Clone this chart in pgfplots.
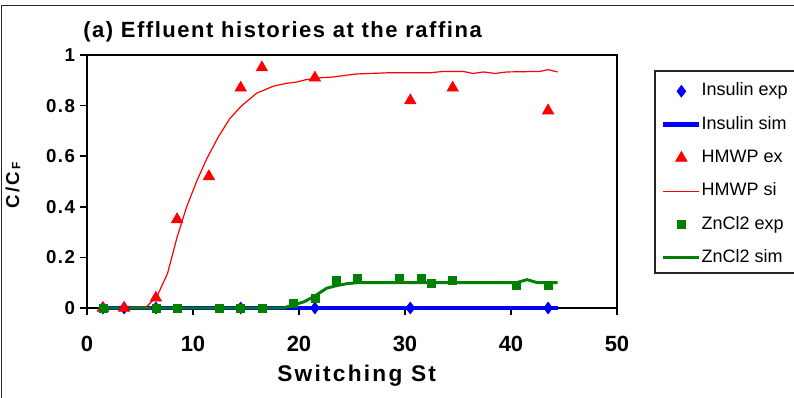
\documentclass[border=0pt]{standalone}
\usepackage{fontspec}
\setmainfont{Liberation Sans}
\newfontfamily\titlefont[LetterSpace=7]{Liberation Sans}
\newfontfamily\legfont[LetterSpace=0]{Liberation Sans}
\newfontfamily\ytfont[LetterSpace=8]{Liberation Sans}
\newfontfamily\xlfont[LetterSpace=10]{Liberation Sans}
\newfontfamily\ylfont[LetterSpace=10]{Liberation Sans}
\usepackage{pgfplots}
\pgfplotsset{compat=1.18}
\definecolor{exblue}{RGB}{0,0,255}
\definecolor{exred}{RGB}{255,0,0}
\definecolor{exgreen}{RGB}{0,128,0}
\begin{document}
\begin{tikzpicture}
\useasboundingbox (0,0) rectangle (595.5pt,-298.5pt);
\clip (0,0) rectangle (595.5pt,-298.5pt);
\begin{scope}[x=0.75pt,y=-0.75pt]
\draw[line width=1.4pt, black!85] (1.5,5.5) rectangle (900,500);
\node[anchor=west, inner sep=0pt, font=\titlefont\bfseries\fontsize{16.5}{19}\selectfont] at (83,32) {(a) Effluent histories at the raffina};
\draw[line width=1pt, black!85] (655,71) rectangle (900,273);
\end{scope}
\begin{axis}[
  at={(65.25pt,-231pt)}, anchor=south west,
  scale only axis, width=397.5pt, height=189.75pt,
  xmin=0, xmax=50, ymin=0, ymax=1,
  xtick={0,10,20,30,40,50}, ytick={0,0.2,0.4,0.6,0.8,1},
  yticklabels={0,0.2,0.4,0.6,0.8,1},
  tick align=outside, xtick pos=bottom, ytick pos=left,
  major tick length=5.5pt,
  every tick/.style={black, line width=1.3pt},
  axis line style={line width=1.8pt, black},
  /pgf/number format/assume math mode=true,
  xticklabel style={font=\bfseries\fontsize{16.5}{16.5}\selectfont, yshift=-12pt},
  yticklabel style={font=\ytfont\bfseries\fontsize{14}{14}\selectfont},
  clip=false,
  xlabel={Switching St},
  xlabel style={at={(axis description cs:0.3585,-0.2688)}, anchor=west, inner sep=0pt, font=\xlfont\bfseries\fontsize{17}{19}\selectfont},
  ylabel={C/C\,\raisebox{-1pt}{\fontsize{9}{9}\selectfont F}},
  every axis y label/.style={at={(axis description cs:-0.1396,0.486)}, rotate=90, anchor=center, inner sep=0pt, font=\ylfont\bfseries\fontsize{14}{16}\selectfont},
  legend style={at={(1.0717,0.9368)}, anchor=north west, draw=none, fill=none,
     font=\legfont\fontsize{13.5}{14}\selectfont, row sep=12pt, inner xsep=4.5pt, inner ysep=8.5pt,
     nodes={text height=10pt, text depth=3pt, inner sep=0pt}},
  legend cell align=left,
  legend image code/.code={\draw[mark repeat=2,mark phase=2,#1] plot coordinates {(0pt,0pt) (13.5pt,0pt) (27pt,0pt)};},
]
\addplot[only marks, mark=diamond*, mark size=4.5pt, color=exblue] coordinates {
 (1.5,0) (3.5,0) (6.5,0) (14.5,0) (21.5,0) (30.5,0) (43.5,0)};
\addlegendentry{Insulin exp}
\addplot[no marks, color=exblue, line width=3.2pt] coordinates {
 (1.5,0) (10,0) (20,0) (30,0) (44.4,0)};
\addlegendentry{Insulin sim}
\addplot[only marks, mark=triangle*, mark size=5pt, color=exred] coordinates {
 (1.5,0) (3.5,0) (6.5,0.04) (8.5,0.35) (11.5,0.52) (14.5,0.87) (16.5,0.95) (21.5,0.91) (30.5,0.82) (34.5,0.87) (43.5,0.78)};
\addlegendentry{HMWP ex}
\addplot[no marks, color=exred, line width=0.9pt] coordinates {
 (1.5,0) (5.6,0.005) (6.6,0.045) (7.6,0.137) (8.5,0.28) (9.4,0.40) (10.4,0.506) (11.3,0.59) (12.4,0.677) (13.5,0.75) (14.6,0.80) (16.0,0.849) (17.6,0.877) (18.8,0.888) (19.8,0.893) (20.7,0.903) (22.0,0.91) (23.2,0.913) (25.4,0.925) (28.6,0.93) (32.4,0.93) (33.6,0.935) (35.5,0.935) (36.4,0.927) (37.4,0.933) (38.5,0.927) (39.6,0.933) (42.7,0.935) (43.5,0.942) (44.4,0.933)};
\addlegendentry{HMWP si}
\addplot[only marks, mark=square*, mark size=3pt, color=exgreen] coordinates {
 (1.5,0) (6.5,0) (8.5,0) (12.5,0) (14.5,0) (16.5,0) (19.5,0.02) (21.5,0.04) (23.5,0.11) (25.5,0.117) (29.5,0.117) (31.5,0.117) (32.5,0.098) (34.5,0.11) (40.5,0.091) (43.5,0.091)};
\addlegendentry{ZnCl2 exp}
\addplot[no marks, color=exgreen, line width=2.2pt] coordinates {
 (1.5,0) (18.5,0) (19.5,0.012) (20.5,0.025) (21.4,0.045) (22.6,0.078) (23.5,0.088) (24.5,0.096) (25.5,0.10) (40.5,0.10) (41.5,0.112) (42.5,0.10) (44.4,0.10)};
\addlegendentry{ZnCl2 sim}
\end{axis}
\end{tikzpicture}
\end{document}
